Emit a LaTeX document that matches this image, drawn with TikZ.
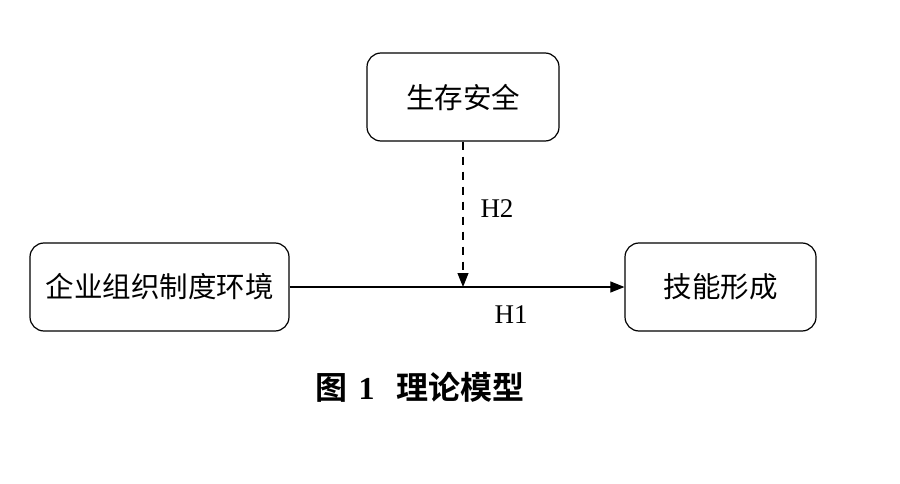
\documentclass[tikz,border=0pt]{standalone}
\usepackage{fontspec}
\setmainfont{Liberation Serif}
\newfontfamily\cjk{Noto Sans CJK SC}
\newfontfamily\cjkb{Noto Sans CJK SC Bold}
\usetikzlibrary{arrows.meta}
\begin{document}
\begin{tikzpicture}[x=1pt,y=-1pt,
  boxnode/.style={draw,line width=1.2pt,rounded corners=14pt,inner sep=0pt,font=\fontsize{28.5}{30}\selectfont\cjk},
  lbl/.style={font=\fontsize{27}{30}\selectfont},
  arr/.style={line width=1.1pt,-{Triangle[length=14pt,width=11pt]}}]
\useasboundingbox (0,0) rectangle (900,484);
\node[boxnode,minimum width=192pt,minimum height=88pt] (top) at (463,97) {生存安全};
\node[boxnode,minimum width=259pt,minimum height=88pt] (left) at (159.5,287) {企业组织制度环境};
\node[boxnode,minimum width=191pt,minimum height=88pt] (right) at (720.5,287) {技能形成};
\draw[arr] (left.east) -- (right.west);
\coordinate (meet) at (top.south |- left.east);
\draw[arr,dashed,dash pattern=on 8pt off 7pt] (top.south) -- (meet);
\node[lbl] (h2) at (497,209) {H2};
\node[lbl] (h1) at (511,315) {H1};
\node[font=\fontsize{32}{34}\selectfont] (cap) at (420,387) {{\cjkb 图}\hspace*{11pt}\textbf{1}\hspace*{22pt}{\cjkb 理论模型}};
\end{tikzpicture}
\end{document}
